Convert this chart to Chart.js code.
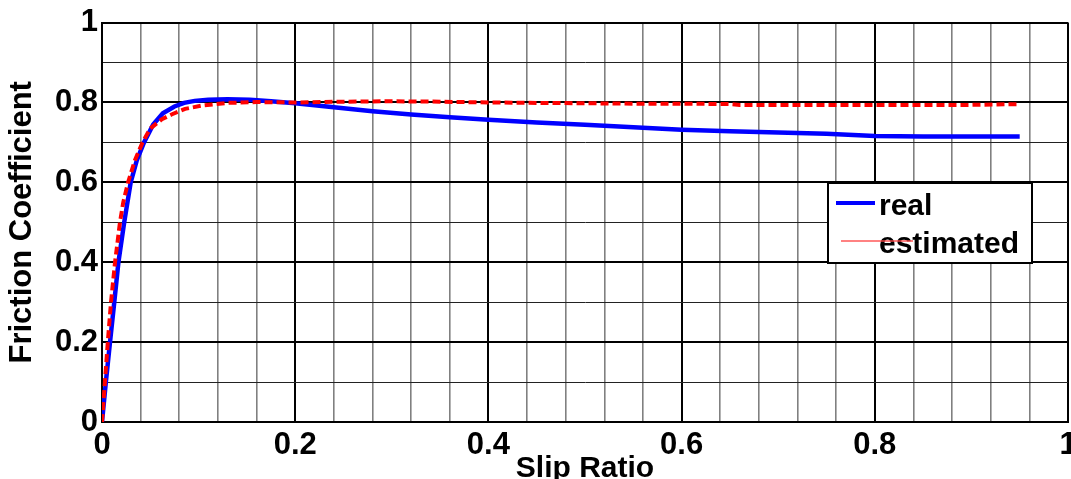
<!DOCTYPE html>
<html>
<head>
<meta charset="utf-8">
<script src="https://cdn.jsdelivr.net/npm/chart.js@4.4.1/dist/chart.umd.min.js"></script>
<style>
  html, body { margin: 0; padding: 0; background: #fff; overflow: hidden; width: 1071px; height: 479px; }
  canvas { display: block; }
</style>
</head>
<body>
<canvas id="c" width="1090" height="500"></canvas>
<script>
// Friction coefficient vs. slip ratio: measured curve and the estimator output
const slipReal = [0, 0.004, 0.0083, 0.0127, 0.017, 0.023, 0.0297, 0.036, 0.0435, 0.053, 0.063, 0.075, 0.085, 0.096, 0.11, 0.13, 0.153, 0.175, 0.2, 0.24, 0.28, 0.32, 0.36, 0.4, 0.45, 0.5, 0.55, 0.6, 0.65, 0.7, 0.75, 0.8, 0.85, 0.9, 0.95];
const muReal   = [0, 0.1, 0.2, 0.3, 0.4, 0.5, 0.6, 0.655, 0.7, 0.745, 0.773, 0.79, 0.799, 0.804, 0.807, 0.808, 0.807, 0.803, 0.798, 0.788, 0.778, 0.77, 0.763, 0.757, 0.75, 0.744, 0.738, 0.732, 0.728, 0.725, 0.722, 0.716, 0.715, 0.715, 0.715];

const slipEst = [0, 0.003, 0.006, 0.0093, 0.0135, 0.0186, 0.022, 0.027, 0.034, 0.042, 0.05, 0.062, 0.072, 0.086, 0.103, 0.13, 0.16, 0.2, 0.25, 0.3, 0.35, 0.4, 0.45, 0.5, 0.55, 0.6, 0.65, 0.66, 0.7, 0.8, 0.9, 0.95];
const muEst   = [0, 0.1, 0.2, 0.3, 0.4, 0.5, 0.55, 0.6, 0.655, 0.7, 0.735, 0.758, 0.77, 0.784, 0.792, 0.799, 0.801, 0.8, 0.802, 0.803, 0.802, 0.8, 0.799, 0.798, 0.797, 0.797, 0.796, 0.794, 0.794, 0.794, 0.794, 0.796];

const xTickLabels = ['0', '0.2', '0.4', '0.6', '0.8', '1'];
const yTickLabels = ['0', '0.2', '0.4', '0.6', '0.8', '1'];
const seriesNames = ['real', 'estimated'];

const FONT = '"Liberation Sans", Arial, sans-serif';

function toPoints(xs, ys) { return xs.map((x, i) => ({ x: x, y: ys[i] })); }
function isMajor(v) { return Math.abs(v / 0.2 - Math.round(v / 0.2)) < 1e-6; }
function majorLabel(v, labels) { return isMajor(v) ? labels[Math.round(v / 0.2)] : ''; }

// Boxed legend drawn inside the plot area
const boxLegend = {
  id: 'boxLegend',
  afterDatasetsDraw(chart) {
    const ctx = chart.ctx;
    const x0 = 828, y0 = 183, w = 204, h = 80;
    ctx.save();
    ctx.fillStyle = '#fff';
    ctx.fillRect(x0, y0, w, h);
    ctx.strokeStyle = '#000';
    ctx.lineWidth = 2;
    ctx.strokeRect(x0, y0, w, h);
    ctx.font = 'bold 30px ' + FONT;
    ctx.fillStyle = '#000';
    ctx.textBaseline = 'alphabetic';
    ctx.textAlign = 'left';
    ctx.fillText(seriesNames[0], 879, 215);
    ctx.fillText(seriesNames[1], 879, 253);
    ctx.strokeStyle = chart.data.datasets[0].borderColor;
    ctx.lineWidth = 4;
    ctx.beginPath(); ctx.moveTo(836, 203); ctx.lineTo(875, 203); ctx.stroke();
    ctx.strokeStyle = 'rgba(255,70,70,0.9)';
    ctx.lineWidth = 1.5;
    ctx.beginPath(); ctx.moveTo(841, 241); ctx.lineTo(913, 241); ctx.stroke();
    ctx.restore();
  }
};

new Chart(document.getElementById('c'), {
  type: 'line',
  data: {
    datasets: [
      {
        label: seriesNames[0],
        data: toPoints(slipReal, muReal),
        borderColor: '#0000ff',
        borderWidth: 4.5,
        pointRadius: 0,
        tension: 0,
        fill: false,
        order: 1
      },
      {
        label: seriesNames[1],
        data: toPoints(slipEst, muEst),
        borderColor: '#ff0000',
        borderWidth: 4,
        borderDash: [8, 4],
        pointRadius: 0,
        tension: 0,
        fill: false,
        order: 0
      }
    ]
  },
  options: {
    responsive: false,
    animation: false,
    devicePixelRatio: 1,
    layout: { padding: { left: 0, top: 22, right: 22, bottom: 0 } },
    plugins: { legend: { display: false }, tooltip: { enabled: false } },
    scales: {
      x: {
        type: 'linear',
        min: 0, max: 1,
        afterFit(scale) { scale.height = 78; },
        ticks: {
          stepSize: 0.04,
          autoSkip: false,
          maxRotation: 0,
          padding: 5,
          color: '#000',
          font: { family: FONT, size: 31, weight: 'bold' },
          callback: (v) => majorLabel(v, xTickLabels)
        },
        grid: {
          drawTicks: false,
          color: (c) => isMajor(c.tick.value) ? '#000' : '#808080',
          lineWidth: (c) => isMajor(c.tick.value) ? 2 : 1.6
        },
        border: { display: true, color: '#000', width: 2 },
        title: {
          display: true,
          text: 'Slip Ratio',
          color: '#000',
          font: { family: FONT, size: 30, weight: 'bold' },
          padding: { top: 0, bottom: 13 }
        }
      },
      y: {
        type: 'linear',
        min: 0, max: 1,
        afterFit(scale) { scale.width = 102; },
        ticks: {
          stepSize: 0.1,
          autoSkip: false,
          padding: 4,
          color: '#000',
          font: { family: FONT, size: 31, weight: 'bold' },
          callback: (v) => majorLabel(v, yTickLabels)
        },
        grid: {
          drawTicks: false,
          color: (c) => isMajor(c.tick.value) ? '#000' : '#222',
          lineWidth: (c) => isMajor(c.tick.value) ? 2 : 1
        },
        border: { display: true, color: '#000', width: 2 },
        title: {
          display: true,
          text: 'Friction Coefficient',
          color: '#000',
          font: { family: FONT, size: 31, weight: 'bold' },
          padding: { top: 4, bottom: 0 }
        }
      }
    }
  },
  plugins: [boxLegend]
});
</script>
</body>
</html>
